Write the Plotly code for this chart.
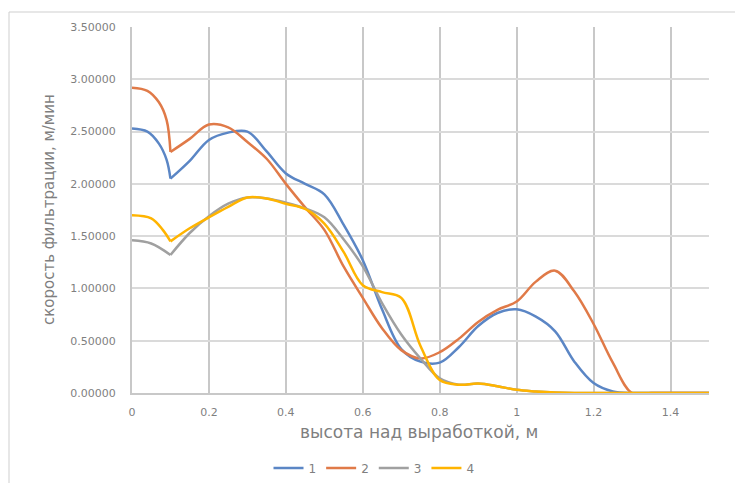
import plotly.graph_objects as go

# ---- data ----
series_names = ["1", "2", "3", "4"]
series_colors = ["#5B86C5", "#E07A48", "#A0A0A0", "#FFB400"]

# first section (0 .. 0.1), ends at the cusp at x = 0.1
x_head_1 = [0.0, 0.04, 0.07, 0.09, 0.1]
y_head_1 = [2.53, 2.50, 2.385, 2.23, 2.05]
x_head_2 = [0.0, 0.04, 0.07, 0.09, 0.1]
y_head_2 = [2.92, 2.89, 2.78, 2.61, 2.305]
x_head_3 = [0.0, 0.05, 0.1]
y_head_3 = [1.46, 1.43, 1.32]
x_head_4 = [0.0, 0.05, 0.08, 0.1]
y_head_4 = [1.70, 1.67, 1.56, 1.45]

# main section (0.1 .. 1.5)
x_main = [0.1, 0.15, 0.2, 0.25, 0.3, 0.35, 0.4, 0.45, 0.5, 0.55, 0.6, 0.65, 0.7,
          0.75, 0.8, 0.85, 0.9, 0.95, 1.0, 1.05, 1.1, 1.15, 1.2, 1.25, 1.3,
          1.35, 1.4, 1.45, 1.5]
y_main_1 = [2.05, 2.22, 2.42, 2.49, 2.50, 2.31, 2.10, 2.00, 1.90, 1.61, 1.27, 0.80,
            0.42, 0.30, 0.29, 0.44, 0.64, 0.765, 0.80, 0.73, 0.59, 0.30, 0.095,
            0.015, 0.0, 0.0, 0.0, 0.0, 0.0]
y_main_2 = [2.305, 2.43, 2.567, 2.54, 2.40, 2.24, 2.00, 1.775, 1.56, 1.21, 0.91,
            0.62, 0.41, 0.33, 0.39, 0.52, 0.68, 0.795, 0.875, 1.065, 1.17, 0.97,
            0.66, 0.29, 0.0, 0.0, 0.0, 0.0, 0.0]
y_main_3 = [1.32, 1.53, 1.69, 1.81, 1.87, 1.86, 1.82, 1.765, 1.68, 1.47, 1.21,
            0.86, 0.56, 0.33, 0.14, 0.08, 0.09, 0.065, 0.03, 0.015, 0.005, 0.0,
            0.0, 0.0, 0.0, 0.0, 0.0, 0.0, 0.0]
y_main_4 = [1.45, 1.575, 1.68, 1.78, 1.87, 1.86, 1.81, 1.76, 1.62, 1.35, 1.03,
            0.965, 0.91, 0.45, 0.124, 0.08, 0.09, 0.065, 0.03, 0.015, 0.005, 0.0,
            0.0, 0.0, 0.0, 0.0, 0.0, 0.0, 0.0]

x_ticks = [0, 0.2, 0.4, 0.6, 0.8, 1.0, 1.2, 1.4]
y_ticks = [0, 0.5, 1.0, 1.5, 2.0, 2.5, 3.0, 3.5]

x_title = "высота над выработкой, м"
y_title = "скорость фильтрации, м/мин"

heads = [(x_head_1, y_head_1), (x_head_2, y_head_2), (x_head_3, y_head_3), (x_head_4, y_head_4)]
mains = [y_main_1, y_main_2, y_main_3, y_main_4]

fig = go.Figure()
for name, color, (hx, hy), my in zip(series_names, series_colors, heads, mains):
    fig.add_trace(go.Scatter(
        x=x_main, y=my, mode="lines", name=name, legendgroup=name,
        line=dict(color=color, width=2.5, shape="spline", smoothing=1.0),
    ))
    fig.add_trace(go.Scatter(
        x=hx, y=hy, mode="lines", name=name, legendgroup=name, showlegend=False,
        line=dict(color=color, width=2.5, shape="spline", smoothing=1.0),
    ))

L, R, T, B = 132, 26, 27, 90
W, H = 735, 483
pw, ph = W - L - R, H - T - B

def px2paper_x(px):
    return (px - L) / pw

def px2paper_y(py):
    return (H - B - py) / ph

tickfont = dict(family="DejaVu Sans", size=11, color="#7F7F7F")

fig.update_layout(
    width=W, height=H,
    margin=dict(l=L, r=R, t=T, b=B, autoexpand=False),
    paper_bgcolor="white", plot_bgcolor="white",
    showlegend=True,
    legend=dict(orientation="h", x=px2paper_x(374), xanchor="center",
                y=px2paper_y(468), yanchor="middle",
                font=dict(family="DejaVu Sans", size=12, color="#7F7F7F"),
                traceorder="normal"),
    xaxis=dict(range=[0, 1.5], tickvals=x_ticks, ticktext=[f"{v:g}" for v in x_ticks],
               showgrid=True, gridcolor="#C8C8C8", gridwidth=2,
               zeroline=False, showline=True, linecolor="#C8C8C8", linewidth=2,
               ticks="", tickfont=tickfont, ticklabelstandoff=8, fixedrange=True,
               automargin=False),
    yaxis=dict(range=[0, 3.5], tickvals=y_ticks, tickformat=".5f",
               showgrid=True, gridcolor="#DADADA", gridwidth=2,
               zeroline=False, showline=True, linecolor="#C8C8C8", linewidth=2,
               ticks="", tickfont=tickfont, ticklabelstandoff=12, fixedrange=True,
               automargin=False),
    annotations=[
        dict(text=x_title, xref="paper", yref="paper", x=px2paper_x(419), y=px2paper_y(432),
             xanchor="center", yanchor="middle", showarrow=False,
             font=dict(family="DejaVu Sans", size=17, color="#7F7F7F")),
        dict(text=y_title, xref="paper", yref="paper", x=px2paper_x(49), y=px2paper_y(210),
             xanchor="center", yanchor="middle", showarrow=False, textangle=-90,
             font=dict(family="DejaVu Sans", size=15, color="#7F7F7F")),
    ],
    shapes=[
        dict(type="rect", xref="paper", yref="paper",
             x0=px2paper_x(9), x1=px2paper_x(760), y0=px2paper_y(520), y1=px2paper_y(12),
             line=dict(color="#CFCFCF", width=1), fillcolor="rgba(0,0,0,0)", layer="below"),
    ],
)

fig.write_html("out.html", config={"displayModeBar": False},
               post_script="document.body.style.margin='0';document.body.style.overflow='hidden';")
